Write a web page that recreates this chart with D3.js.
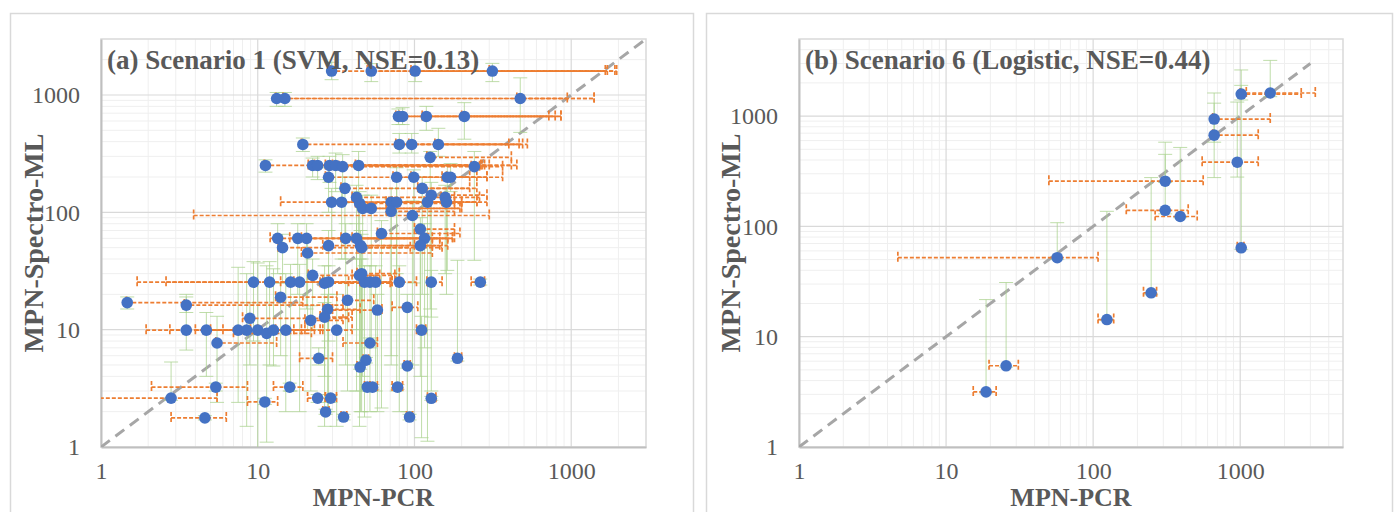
<!DOCTYPE html>
<html>
<head>
<meta charset="utf-8">
<script src="https://cdn.jsdelivr.net/npm/d3@7"></script>
<style>
  body { margin: 0; background: #fff; }
  svg { display: block; }
  text { font-family: "Liberation Serif", "Times New Roman", serif; }
</style>
</head>
<body>
<div id="chart"></div>
<script>
// ---- panel (a) Scenario 1 (SVM) ----
const aX    = [29.6,53,101,314,13.2,14.9,473,79,84,119,208,19.4,80,96,142,126,11.2,22.4,24.1,28.7,31.4,34.8,44,241,28.3,77,99,162,170,112,36,29.6,34.3,42.7,44.7,46.7,53,71,77,71,97,121,128,157,160,13.4,18,20.5,36.4,42.7,45.3,14.4,20.8,28.3,61.6,109,116,109,46,22.4,44.6,26.7,28.3,48,52,56.5,80,128,263,46,9.4,11.9,16.2,18.5,1.47,3.5,14,37.4,8.9,27.9,26.7,21.8,58,90,111,3.5,4.7,7.5,8.5,10,11.4,12.6,15.1,31.9,5.5,24.5,16,24.1,29.2,27.1,35.3,11.1,5.4,4.6,2.8,52,49,45,90,188,50,54,78,128,93];
const aY    = [1600,1600,1600,1600,933,933,933,656,656,656,656,379,379,379,379,294,251,251,251,251,251,245,251,245,199,199,199,199,199,160,160,122,122,134,119,108,108,122,122,102,94,122,140,134,122,60,60,60,60,60,52,50,45,52,66,72,60,52,50,29,29,24.9,25.5,25.4,25.4,25.4,25.4,25.4,25.4,30,25.4,25.4,25.4,25.4,17,16.2,18.9,17.8,12.5,14.9,12.8,12,14.7,15.5,9.9,9.9,9.9,9.9,9.9,9.9,9.3,9.9,9.9,9.9,7.7,5.7,3.24,2.61,2.61,1.99,1.8,2.42,3.24,1.77,2.61,7.7,5.5,4.8,4.9,5.7,3.24,3.24,3.24,2.6,1.8];
const aXLo  = [29,50,95,300,13,14.5,450,76,80,112,200,19,76,92,135,120,11,21,23,27,30,33,42,230,27,73,95,150,160,105,34,14,30,40,42,44,50,66,72,66,3.9,115,120,148,150,12,16,19,34,40,43,13.5,19,26,58,100,110,100,43,21,40,25,26,45,48,52,76,120,230,43,1.7,2.6,14,17,1.45,3.4,13,35,8,26,25,20,30,72,103,1.94,2.75,4,5,6,7,9,10,25,5.4,18.5,12.6,20.8,27,26,34,8.6,2.1,2.8,0.9,35,47,43,86,180,48,52,72,121,89];
const aXHi  = [1650,1700,1900,1950,944,1400,1400,720,790,860,860,400,465,490,525,415,265,270,415,300,450,260,280,365,225,365,250,290,290,250,225,165,180,180,200,200,195,250,200,180,300,250,290,260,290,130,145,175,180,163,130,94,130,145,195,180,175,163,150,60,75,70,72,72,72,80,103,150,280,80,38,45,55,50,19.4,35,32,55,38,45,40,35,62,105,118,13,15,17,19,20,22,23,26,40,13.2,30,19.4,27,31.8,28.5,37,13.4,8.6,6.3,5.5,58,51,47,94,200,52,58,84,137,97];
const aYLo  = [1350,1300,1300,1300,800,800,480,560,560,500,420,330,320,320,300,15,220,200,190,180,150,120,60,39,100,30,25,32,150,20,40,60,40,10,5,4,8,5,3,6,5,1.12,12.8,30,20,30,20,15,5,3,2,25,10,8,2.15,10,7,4,3,10,1.5,4,2,1.8,2,3,2,3,24,2,8,5,3,2,15,14,6,3,5,2,1.5,3,2,2,1.2,6.7,4,2.4,1.5,0.8,1.1,4.9,2,1.5,2.4,5,3,2.4,2.4,1.9,1.7,2.3,3,1.7,2.5,7,5.2,4.6,4.7,5.4,3.1,3.1,3.1,2.5,1.7];
const aYHi  = [1900,1850,1900,1860,1050,1050,1400,760,780,800,860,430,470,470,520,330,280,290,300,300,320,310,330,330,240,240,230,250,260,200,200,160,160,170,150,140,140,160,160,130,125,160,180,170,160,80,80,80,80,80,70,65,60,70,85,90,80,70,65,40,40,35,35,35,35,35,35,32,27,40,38,38,36,36,19,19,25,25,17,20,17,16,20,20,13,20,14,34,30,37,35,33,30,20,13,7,3.5,2.8,2.8,2.1,1.9,2.6,3.5,1.85,5.3,8.5,5.8,5,5.1,39,3.4,3.4,3.4,2.7,1.9];

// ---- panel (b) Scenario 6 (Logistic) ----
const bX    = [1016,1600,665,665,955,309,309,391,1016,18.7,25.6,57,124,248];
const bY    = [1585,1620,940,672,382,257,140,123,64,3.16,5.45,52,14.3,25];
const bXLo  = [1000,1100,650,650,551,50,168,264,955,15.3,19.6,4.7,108,220];
const bXHi  = [2600,3240,1600,1326,1326,560,443,510,1060,21.9,31,108,138,270];
const bYLo  = [1400,1500,580,277,280,250,130,120,62,3.1,5.3,50,14,24];
const bYHi  = [1900,3200,1620,1310,1340,580,450,520,2620,21.7,31,108,137,277];

const majorTicks = [1, 10, 100, 1000];
const ink = "#595959";

const svg = d3.select("#chart").append("svg")
  .attr("width", 1396).attr("height", 512);

// outer chart frames
svg.append("rect").attr("x", 10.5).attr("y", 13.5).attr("width", 683).attr("height", 520)
  .attr("fill", "#fff").attr("stroke", "#d9d9d9").attr("stroke-width", 1.5);
svg.append("rect").attr("x", 706.5).attr("y", 13.5).attr("width", 686).attr("height", 520)
  .attr("fill", "#fff").attr("stroke", "#d9d9d9").attr("stroke-width", 1.5);

function drawPanel(p) {
  const x = d3.scaleLog().domain([1, p.max]).range([p.left, p.right]);
  const y = d3.scaleLog().domain([1, p.max]).range([p.bottom, p.top]);
  const g = svg.append("g");
  const clipId = "clip-" + p.id;
  g.append("clipPath").attr("id", clipId).append("rect")
    .attr("x", p.left).attr("y", p.top)
    .attr("width", p.right - p.left).attr("height", p.bottom - p.top);

  // minor + major grid
  const allTicks = x.ticks(40).filter(d => d > 1 && d < p.max);
  const minor = allTicks.filter(d => !majorTicks.includes(d));
  const grid = g.append("g");
  grid.selectAll(".vmin").data(minor).enter().append("line")
    .attr("x1", d => x(d)).attr("x2", d => x(d))
    .attr("y1", p.top).attr("y2", p.bottom)
    .attr("stroke", "#efefef").attr("stroke-width", 1);
  grid.selectAll(".hmin").data(minor).enter().append("line")
    .attr("y1", d => y(d)).attr("y2", d => y(d))
    .attr("x1", p.left).attr("x2", p.right)
    .attr("stroke", "#efefef").attr("stroke-width", 1);
  grid.selectAll(".vmaj").data(majorTicks.slice(1)).enter().append("line")
    .attr("x1", d => x(d)).attr("x2", d => x(d))
    .attr("y1", p.top).attr("y2", p.bottom)
    .attr("stroke", "#d9d9d9").attr("stroke-width", 1.2);
  grid.selectAll(".hmaj").data(majorTicks.slice(1)).enter().append("line")
    .attr("y1", d => y(d)).attr("y2", d => y(d))
    .attr("x1", p.left).attr("x2", p.right)
    .attr("stroke", "#d9d9d9").attr("stroke-width", 1.2);

  // plot area border
  g.append("rect").attr("x", p.left).attr("y", p.top)
    .attr("width", p.right - p.left).attr("height", p.bottom - p.top)
    .attr("fill", "none").attr("stroke", "#d9d9d9").attr("stroke-width", 1.5);

  // axes
  const xAxis = d3.axisBottom(x).tickValues(majorTicks).tickFormat(d3.format("d")).tickSize(0);
  const yAxis = d3.axisLeft(y).tickValues(majorTicks).tickFormat(d3.format("d")).tickSize(0);
  const gx = g.append("g").attr("transform", `translate(0,${p.bottom})`).call(xAxis);
  gx.select(".domain").attr("stroke", "#bfbfbf").attr("stroke-width", 2);
  gx.selectAll("text").attr("y", 32).attr("dy", null)
    .attr("font-size", 24).attr("fill", ink).style("font-family", "Liberation Serif");
  const gy = g.append("g").attr("transform", `translate(${p.left},0)`).call(yAxis);
  gy.select(".domain").attr("stroke", "#bfbfbf").attr("stroke-width", 2);
  gy.selectAll("text").attr("x", -21)
    .attr("font-size", 24).attr("fill", ink).style("font-family", "Liberation Serif");

  const data = p.xs.map((v, i) => ({x: v, y: p.ys[i], xlo: p.xlo[i], xhi: p.xhi[i], ylo: p.ylo[i], yhi: p.yhi[i]}));
  const plot = g.append("g").attr("clip-path", `url(#${clipId})`);

  // 1:1 line
  plot.append("line")
    .attr("x1", x(1)).attr("y1", y(1)).attr("x2", x(3000)).attr("y2", y(3000))
    .attr("stroke", "#a6a6a6").attr("stroke-width", 3).attr("stroke-dasharray", "11,7");

  // y error bars (green)
  const ye = plot.append("g").attr("stroke", "#a9d18e").attr("stroke-opacity", 0.75).attr("stroke-width", 1);
  data.forEach(d => {
    ye.append("line").attr("x1", x(d.x)).attr("x2", x(d.x)).attr("y1", y(Math.max(d.ylo, 0.5))).attr("y2", y(d.yhi));
    ye.append("line").attr("x1", x(d.x) - 7).attr("x2", x(d.x) + 7).attr("y1", y(d.yhi)).attr("y2", y(d.yhi));
    if (d.ylo < d.y) ye.append("line").attr("x1", x(d.x) - 7).attr("x2", x(d.x) + 7).attr("y1", y(Math.max(d.ylo, 0.5))).attr("y2", y(Math.max(d.ylo, 0.5)));
  });

  // x error bars (orange, dashed)
  const xe = plot.append("g").attr("stroke", "#ed7d31").attr("stroke-width", 1.7).attr("stroke-dasharray", "4,2");
  data.forEach(d => {
    xe.append("line").attr("x1", x(Math.max(d.xlo, 0.5))).attr("x2", x(d.xhi)).attr("y1", y(d.y)).attr("y2", y(d.y));
    [d.xlo, d.xhi].forEach(v => {
      xe.append("line").attr("x1", x(Math.max(v, 0.5))).attr("x2", x(Math.max(v, 0.5)))
        .attr("y1", y(d.y) - 6).attr("y2", y(d.y) + 6);
    });
  });

  // markers
  plot.selectAll("circle").data(data).enter().append("circle")
    .attr("cx", d => x(d.x)).attr("cy", d => y(d.y)).attr("r", 5.8)
    .attr("fill", "#4472c4");

  // title
  g.append("text").attr("x", p.left + 6).attr("y", 69)
    .attr("font-size", 27).attr("font-weight", "bold").attr("fill", ink)
    .text(p.title);

  // axis titles
  g.append("text").attr("x", (p.left + p.right) / 2).attr("y", 506)
    .attr("text-anchor", "middle").attr("font-size", 26).attr("font-weight", "bold").attr("fill", ink)
    .text("MPN-PCR");
  g.append("text")
    .attr("transform", `translate(${p.yLabelX},${(p.top + p.bottom) / 2}) rotate(-90)`)
    .attr("text-anchor", "middle").attr("font-size", 28).attr("font-weight", "bold").attr("fill", ink)
    .text("MPN-Spectro-ML");
}

drawPanel({id: "a", left: 101, right: 646, top: 39, bottom: 447, max: 3000, yLabelX: 43,
  title: "(a) Scenario 1 (SVM, NSE=0.13)",
  xs: aX, ys: aY, xlo: aXLo, xhi: aXHi, ylo: aYLo, yhi: aYHi});
drawPanel({id: "b", left: 799, right: 1343, top: 39, bottom: 447, max: 5000, yLabelX: 740,
  title: "(b) Scenario 6 (Logistic, NSE=0.44)",
  xs: bX, ys: bY, xlo: bXLo, xhi: bXHi, ylo: bYLo, yhi: bYHi});
</script>
</body>
</html>
